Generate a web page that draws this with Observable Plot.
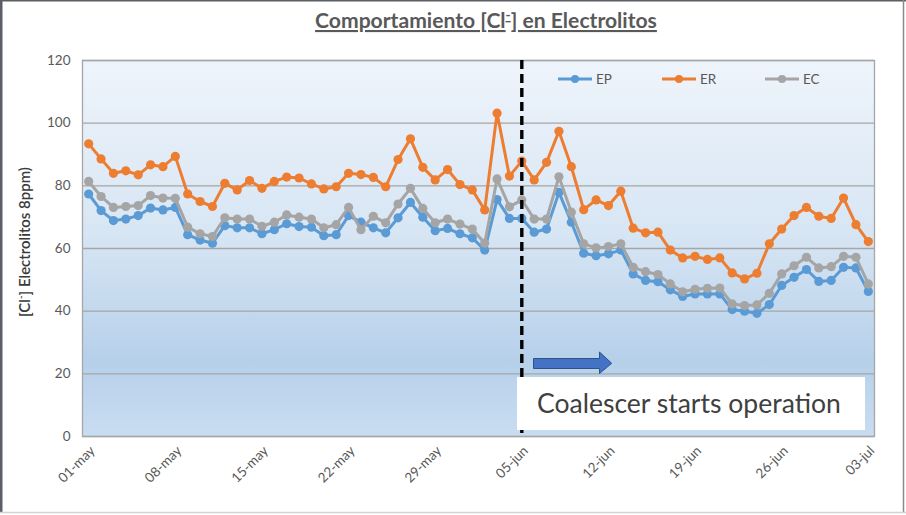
<!DOCTYPE html>
<html><head><meta charset="utf-8">
<script src="https://cdn.jsdelivr.net/npm/d3@7"></script>
<script src="https://cdn.jsdelivr.net/npm/@observablehq/plot@0.6"></script>
<style>
html,body{margin:0;padding:0;background:#fff;}
#chart{position:relative;width:906px;height:515px;overflow:hidden;}
#chart svg{display:block;}
</style></head><body><div id="chart"></div>
<script>
// ---- data ----
const startDate = "2021-05-01";
const seriesNames = ["EP", "ER", "EC"];
const seriesColors = ["#5b9bd5", "#ed7d31", "#a5a5a5"];
const EP = [77.4,72.1,68.9,69.4,70.5,72.9,72.3,73.1,64.4,62.7,61.7,67.3,66.6,66.6,64.7,66.0,
  67.9,67.0,66.8,64.1,64.4,70.5,68.4,66.6,65.0,69.8,74.7,70.0,65.7,66.4,64.7,63.4,
  59.5,75.6,69.6,69.6,65.2,66.2,77.9,68.4,58.5,57.7,58.3,59.5,51.9,49.8,49.4,46.8,
  44.7,45.5,45.5,45.5,40.5,40.0,39.3,42.1,48.2,50.8,53.3,49.5,49.8,54.0,53.8,46.3];
const ER = [93.4,88.6,84.0,84.8,83.5,86.7,86.1,89.4,77.4,75.0,73.4,80.8,78.7,81.7,79.2,81.4,
  82.8,82.5,80.6,79.0,79.7,84.0,83.6,82.7,79.7,88.4,95.0,85.9,81.9,85.2,80.4,78.7,
  72.3,103.2,83.1,87.9,81.9,87.5,97.4,86.1,72.4,75.5,73.7,78.3,66.5,65.0,65.2,59.5,
  57.0,57.5,56.5,57.0,52.2,50.3,52.1,61.5,66.2,70.5,73.1,70.3,69.6,76.1,67.6,62.2];
const EC = [81.4,76.6,73.1,73.4,73.7,76.9,76.1,76.0,66.8,64.7,63.8,69.8,69.4,69.4,67.1,68.4,
  70.7,70.0,69.4,66.6,67.6,73.1,66.0,70.3,68.2,74.2,79.2,72.8,68.2,69.4,67.8,66.2,
  61.7,82.2,73.3,75.5,69.4,69.4,82.9,71.6,61.5,60.2,60.6,61.5,54.0,52.6,51.7,48.7,
  46.2,47.0,47.3,47.4,42.3,41.8,42.0,45.7,51.9,54.5,57.2,53.8,54.2,57.5,57.2,48.7];
const yTicks = [0, 20, 40, 60, 80, 100, 120];
const xTickLabels = ["01-may","08-may","15-may","22-may","29-may","05-jun","12-jun","19-jun","26-jun","03-jul"];
const eventDate = "2021-06-05";
const eventLabel = "Coalescer starts operation";
const titleParts = ["Comportamiento [Cl", "-", "] en Electrolitos"];
const yTitleParts = ["[Cl", "-", "] Electrolitos 8ppm)"];

// ---- build ----
const DAY = 864e5;
const t0 = Date.parse(startDate);
const seriesValues = [EP, ER, EC];
const dates = EP.map((_, i) => new Date(t0 + i * DAY));
const rows = [];
seriesValues.forEach((vals, k) => vals.forEach((v, i) => rows.push({date: dates[i], value: v, series: seriesNames[k]})));
const tickDates = xTickLabels.map((_, i) => dates[i * 7]);
const labelMap = new Map(tickDates.map((d, i) => [+d, xTickLabels[i]]));

const FONT = "Lato, 'Open Sans', sans-serif";
const marks = [
  Plot.frame({fill: "url(#bgGrad)"}),
  Plot.ruleY(yTicks, {stroke: "#a6a6a6", strokeWidth: 1.3}),
  Plot.frame({stroke: "#a6a6a6", strokeWidth: 1.3})
];
seriesNames.forEach((name, k) => {
  const data = rows.filter(r => r.series === name);
  marks.push(Plot.line(data, {x: "date", y: "value", stroke: seriesColors[k], strokeWidth: 3, strokeLinejoin: "round"}));
  marks.push(Plot.dot(data, {x: "date", y: "value", r: 4.6, fill: seriesColors[k], stroke: "none"}));
});
marks.push(Plot.ruleX([new Date(eventDate)], {stroke: "#000", strokeWidth: 3.4, strokeDasharray: "9,5"}));
marks.push(Plot.axisY(yTicks, {tickSize: 0, tickPadding: 12, label: null, fontSize: 13.5}));
marks.push(Plot.axisX(tickDates, {tickSize: 0, tickPadding: 12, tickRotate: -45, label: null, fontSize: 13.5, dx: 4,
  tickFormat: d => labelMap.get(+d)}));

const plot = Plot.plot({
  width: 906, height: 515,
  marginLeft: 82, marginRight: 32, marginTop: 60, marginBottom: 79,
  style: {fontFamily: FONT, color: "#595959", background: "#fff", overflow: "visible"},
  x: {type: "utc", domain: [new Date(t0 - DAY / 2), new Date(+dates[dates.length - 1] + DAY / 2)], axis: null},
  y: {domain: [0, 120], axis: null},
  marks
});
document.getElementById("chart").appendChild(plot);

const svg = d3.select(plot);
const defs = svg.insert("defs", ":first-child");
const g = defs.append("linearGradient").attr("id", "bgGrad").attr("x1", 0).attr("y1", 0).attr("x2", 0).attr("y2", 1);
[[0, "#eef4fb"], [0.45, "#d8e6f4"], [0.8, "#b6d0ea"], [1, "#c9ddf1"]].forEach(([o, c]) =>
  g.append("stop").attr("offset", o).attr("stop-color", c));

function fitWidth(sel, target) {
  const n = sel.node();
  const w = n.getComputedTextLength();
  const fs = parseFloat(sel.attr("font-size"));
  if (w > 0) sel.attr("font-size", fs * target / w);
}

// title
const title = svg.append("text").attr("x", 486).attr("y", 28).attr("text-anchor", "middle")
  .attr("font-family", FONT).attr("font-weight", "bold").attr("font-size", 16.5)
  .attr("fill", "#595959").style("text-decoration", "underline");
title.append("tspan").text(titleParts[0]);
title.append("tspan").attr("baseline-shift", "super").attr("font-size", "65%").text(titleParts[1]);
title.append("tspan").text(titleParts[2]);
fitWidth(title, 342);

// y title
const yt = svg.append("text").attr("transform", "translate(30,242) rotate(-90)").attr("text-anchor", "middle")
  .attr("font-family", FONT).attr("font-size", 15).attr("fill", "#3a3a3a").attr("font-weight", 600);
yt.append("tspan").text(yTitleParts[0]);
yt.append("tspan").attr("baseline-shift", "super").attr("font-size", "65%").text(yTitleParts[1]);
yt.append("tspan").text(yTitleParts[2]);
fitWidth(yt, 150);

// legend
const legX = [558, 662, 765];
seriesNames.forEach((name, k) => {
  const lg = svg.append("g").attr("transform", `translate(${legX[k]},79)`);
  lg.append("line").attr("x1", 0).attr("x2", 34).attr("stroke", seriesColors[k]).attr("stroke-width", 3);
  lg.append("circle").attr("cx", 17).attr("r", 4).attr("fill", seriesColors[k]);
  lg.append("text").attr("x", 38).attr("y", 5).attr("text-anchor", "start").attr("font-family", FONT).attr("font-size", 13.5)
    .attr("fill", "#595959").text(name);
});

// arrow
svg.append("path").attr("d", "M533.5,358.5 L599.5,358.5 L599.5,352 L611.7,363.3 L599.5,373.5 L599.5,368.5 L533.5,368.5 Z")
  .attr("fill", "#4472c4").attr("stroke", "#2f528f").attr("stroke-width", 1);

// annotation box
svg.append("rect").attr("x", 517).attr("y", 377).attr("width", 348).attr("height", 53).attr("fill", "#fff");
const ann = svg.append("text").attr("x", 537).attr("y", 413).attr("text-anchor", "start").attr("font-family", FONT).attr("font-size", 24)
  .attr("fill", "#404040").text(eventLabel);
fitWidth(ann, 304);

// outer border
svg.append("line").attr("x1", 0).attr("x2", 906).attr("y1", 0.75).attr("y2", 0.75).attr("stroke", "#5a5f66").attr("stroke-width", 1.5);
svg.append("line").attr("x1", 1.25).attr("x2", 1.25).attr("y1", 0).attr("y2", 513).attr("stroke", "#5a5f66").attr("stroke-width", 2.5);
svg.append("line").attr("x1", 903.5).attr("x2", 903.5).attr("y1", 0).attr("y2", 513).attr("stroke", "#8a8a8a").attr("stroke-width", 1.5);
svg.append("line").attr("x1", 0).attr("x2", 906).attr("y1", 512.5).attr("y2", 512.5).attr("stroke", "#d4d4d4").attr("stroke-width", 1.5);
</script></body></html>
